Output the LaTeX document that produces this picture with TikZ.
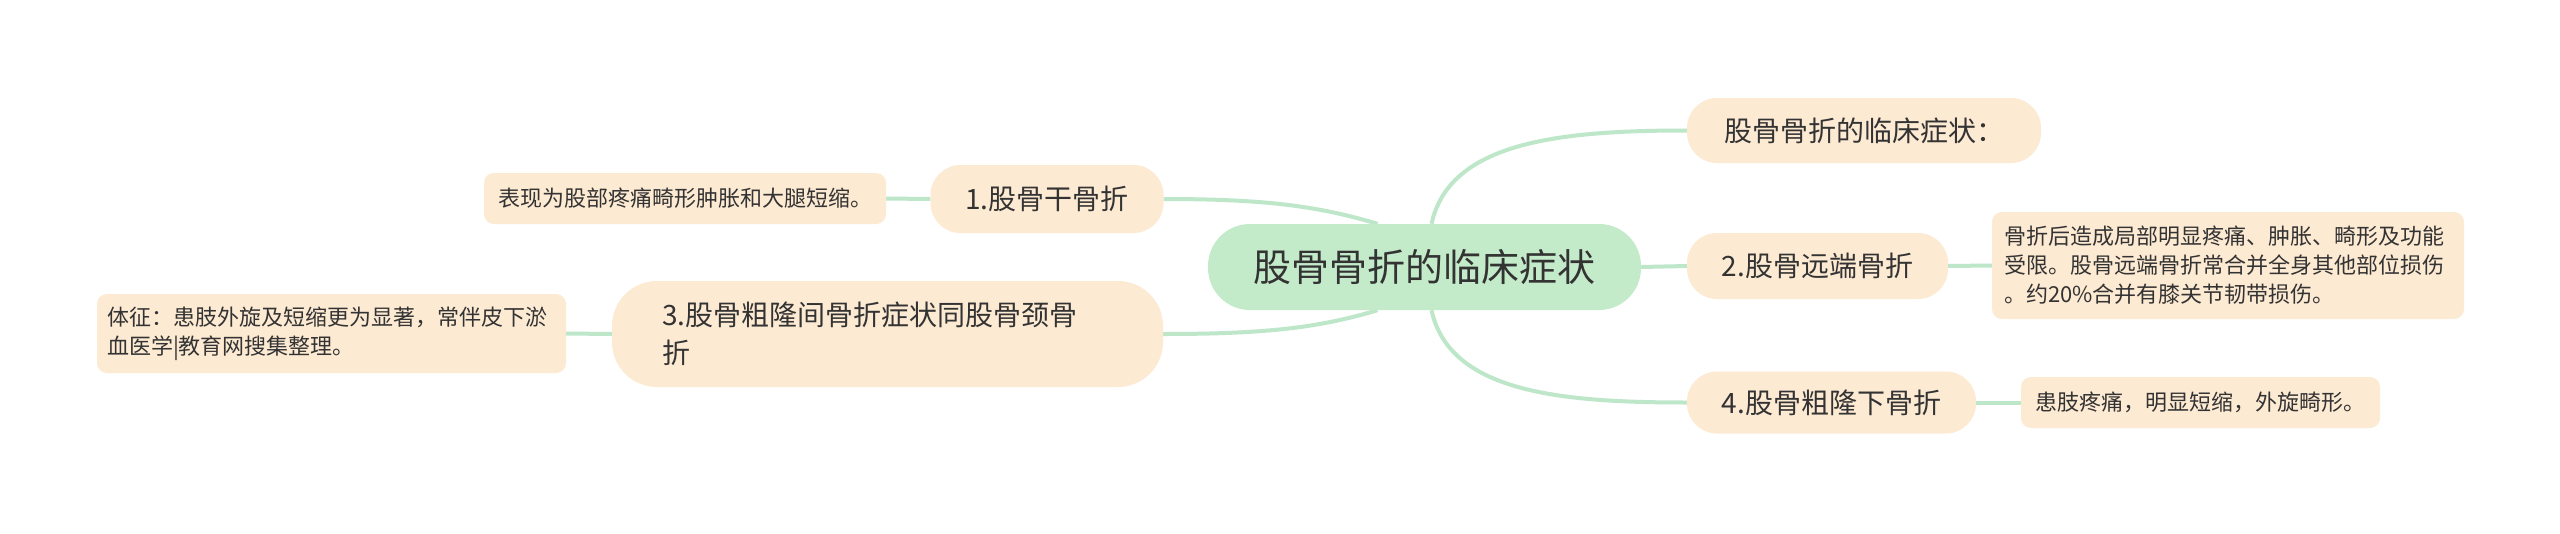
\documentclass[tikz,border=0pt]{standalone}
\usepackage{fontspec}
\setmainfont{Noto Sans CJK SC}
\definecolor{rootc}{HTML}{C4EBC9}
\definecolor{peach}{HTML}{FDEAD3}
\definecolor{linec}{HTML}{BDE7C8}
\definecolor{textc}{HTML}{333333}
\pgfdeclarelayer{back}
\pgfdeclarelayer{links}
\pgfsetlayers{back,links,main}
\begin{document}
\begin{tikzpicture}[x=1pt,y=-1pt,
  root/.style={fill=rootc, rounded corners=42pt, minimum width=433pt, minimum height=86pt, inner sep=0pt, font=\fontsize{38}{44}\selectfont, text=textc},
  branch/.style={fill=peach, rounded corners=30pt, inner sep=0pt, font=\fontsize{28}{38}\selectfont, text=textc},
  leaf/.style={fill=peach, rounded corners=10pt, inner sep=0pt, font=\fontsize{22}{29}\selectfont, text=textc},
  link/.style={draw=linec, line width=4pt}]
\begin{pgfonlayer}{back}
\fill[white] (0,0) rectangle (2560,533);
\end{pgfonlayer}
\useasboundingbox (0,0) rectangle (2560,533);
% nodes
\node[root] (c) at (1424.5,267) {股骨骨折的临床症状};
\node[branch, minimum width=354pt, minimum height=65pt] (r1) at (1864,130.5) {股骨骨折的临床症状：};
\node[branch, minimum width=261pt, minimum height=66pt] (r2) at (1817.5,266) {2.股骨远端骨折};
\node[branch, minimum width=289pt, minimum height=62pt] (r4) at (1831.5,402.5) {4.股骨粗隆下骨折};
\node[branch, minimum width=233pt, minimum height=68pt] (l1) at (1047,199) {1.股骨干骨折};
\node[branch, rounded corners=45pt, minimum height=106pt, inner xsep=50pt, text width=451pt, align=left] (l3) at (887.5,334) {3.股骨粗隆间骨折症状同股骨颈骨\\折};
\node[leaf, minimum width=402pt, minimum height=51pt] (f1) at (685,198.5) {表现为股部疼痛畸形肿胀和大腿短缩。};
\node[leaf, minimum height=79pt, inner xsep=10pt, text width=449pt, align=left] (f3) at (331.5,333.5) {体征：患肢外旋及短缩更为显著，常伴皮下淤\\血医学|教育网搜集整理。};
\node[leaf, minimum height=107pt, inner xsep=12pt, text width=448pt, align=left] (f2) at (2228,265.5) {骨折后造成局部明显疼痛、肿胀、畸形及功能\\受限。股骨远端骨折常合并全身其他部位损伤\\。约20\%合并有膝关节韧带损伤。};
\node[leaf, minimum width=359pt, minimum height=51pt] (f4) at (2200.5,402.5) {患肢疼痛，明显短缩，外旋畸形。};
% links
\begin{pgfonlayer}{links}
\draw[link] ([xshift=7pt]c.north) .. controls +(18,-82) and +(-127,0) .. (r1.west);
\draw[link] (c.east) -- (r2.west);
\draw[link] ([xshift=7pt]c.south) .. controls +(18,82) and +(-127,0) .. (r4.west);
\draw[link] ([xshift=-47pt]c.north) .. controls +(-60,-18) and +(100,0) .. (l1.east);
\draw[link] ([xshift=-47pt]c.south) .. controls +(-60,18) and +(100,0) .. (l3.east);
\draw[link] (l1.west) -- (f1.east);
\draw[link] (l3.west) -- (f3.east);
\draw[link] (r2.east) -- (f2.west);
\draw[link] (r4.east) -- (f4.west);
\end{pgfonlayer}
\end{tikzpicture}
\end{document}
